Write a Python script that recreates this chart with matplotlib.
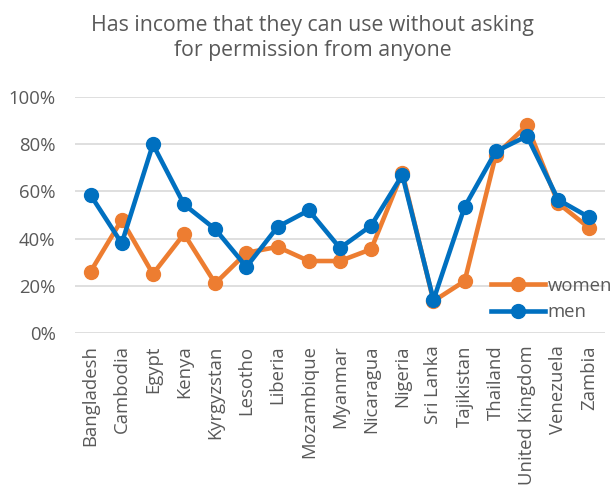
import matplotlib.pyplot as plt
from matplotlib.ticker import FuncFormatter

countries = ['Bangladesh', 'Cambodia', 'Egypt', 'Kenya', 'Kyrgyzstan', 'Lesotho',
             'Liberia', 'Mozambique', 'Myanmar', 'Nicaragua', 'Nigeria', 'Sri Lanka',
             'Tajikistan', 'Thailand', 'United Kingdom', 'Venezuela', 'Zambia']
women = [26, 48, 25, 42, 21, 34, 36.5, 30.5, 30.5, 35.5, 68, 13.5, 22, 75.5, 88, 55, 44.5]
men = [58.5, 38, 80, 54.5, 44, 28, 45, 52, 36, 45.5, 67, 14, 53.5, 77, 83.5, 56.5, 49]

plt.rcParams['font.family'] = ['Open Sans', 'DejaVu Sans']

fig = plt.figure(figsize=(6.12, 4.86), dpi=100)
ax = fig.add_axes([0.1225, 0.315, 0.866, 0.485])

x = range(len(countries))
ax.plot(x, women, color='#ED7D31', lw=3.3, marker='o', ms=10, label='women', zorder=3)
ax.plot(x, men, color='#0070C0', lw=3.3, marker='o', ms=10, label='men', zorder=4)

ax.set_ylim(0, 100)
ax.set_xlim(-0.5, len(countries) - 0.5)
ax.set_yticks(range(0, 101, 20))
ax.yaxis.set_major_formatter(FuncFormatter(lambda v, p: f'{int(v)}%'))
ax.set_xticks(list(x))
ax.set_xticklabels(countries, rotation=90)
ax.tick_params(axis='both', length=0, labelsize=13.3, colors='#595959')
ax.tick_params(axis='y', pad=14)
ax.tick_params(axis='x', pad=9)
ax.grid(axis='y', color='#D9D9D9', lw=1.2)
ax.set_axisbelow(True)
for s in ax.spines.values():
    s.set_visible(False)

fig.text(0.511, 0.97, 'Has income that they can use without asking\nfor permission from anyone',
         ha='center', va='top', fontsize=15.3, color='#595959', linespacing=1.25)

ax.legend(loc='lower right', bbox_to_anchor=(1.045, -0.02), frameon=False, fontsize=13.3,
          handlelength=2.9, handletextpad=0.15, labelspacing=0.45, labelcolor='#595959')

fig.savefig('out.png', dpi=100)
